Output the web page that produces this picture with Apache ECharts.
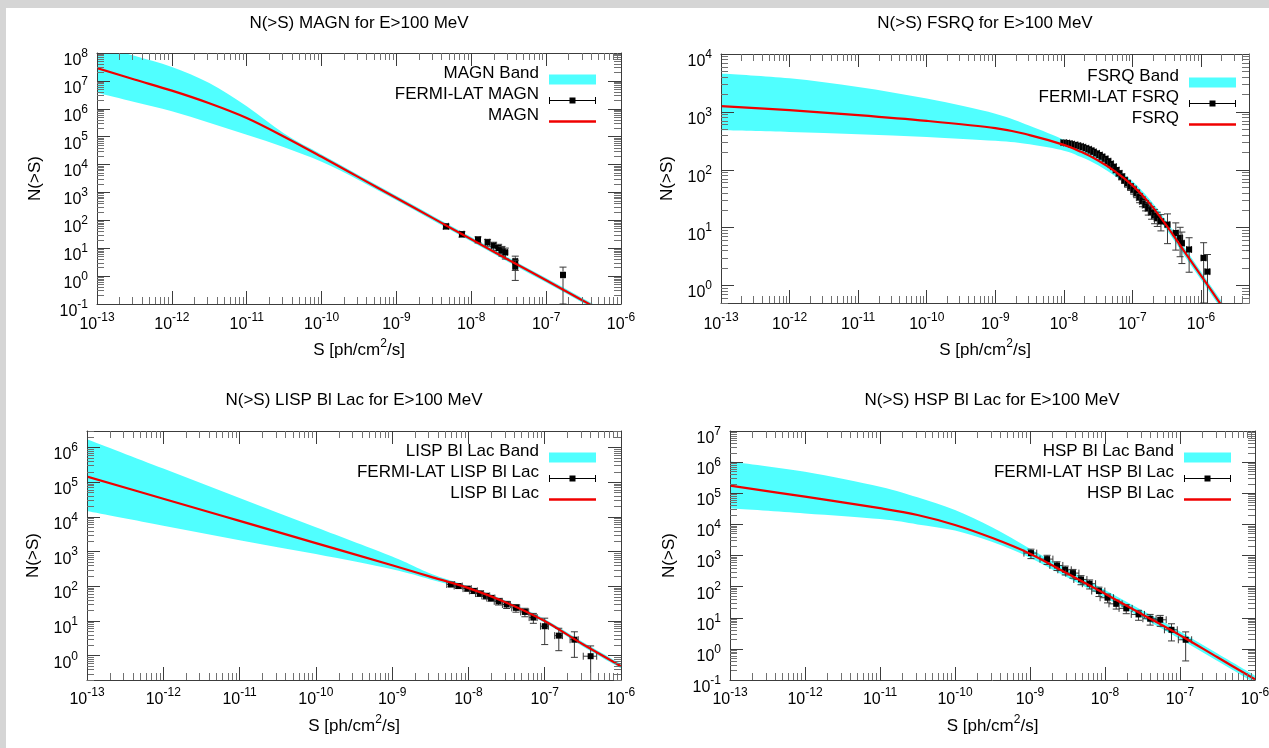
<!DOCTYPE html>
<html>
<head>
<meta charset="utf-8">
<title>N(&gt;S) source counts for E&gt;100 MeV</title>
<script src="https://cdn.jsdelivr.net/npm/echarts@6/dist/echarts.min.js"></script>
<style>
html,body{margin:0;padding:0;background:#ffffff;}
#chart{width:1269px;height:748px;}
</style>
</head>
<body>
<div id="chart"></div>
<script>
// ================= DATA =================
const titles = ['N(>S) MAGN for E>100 MeV', 'N(>S) FSRQ for E>100 MeV',
                'N(>S) LISP Bl Lac for E>100 MeV', 'N(>S) HSP Bl Lac for E>100 MeV'];
const legendNames1 = ['MAGN Band', 'FERMI-LAT MAGN', 'MAGN'];
const legendNames2 = ['FSRQ Band', 'FERMI-LAT FSRQ', 'FSRQ'];
const legendNames3 = ['LISP Bl Lac Band', 'FERMI-LAT LISP Bl Lac', 'LISP Bl Lac'];
const legendNames4 = ['HSP Bl Lac Band', 'FERMI-LAT HSP Bl Lac', 'HSP Bl Lac'];

// tick labels (decade exponents)
const xMajor  = [-13, -12, -11, -10, -9, -8, -7, -6];
const yMajor1 = [-1, 0, 1, 2, 3, 4, 5, 6, 7, 8];
const yMajor2 = [0, 1, 2, 3, 4];
const yMajor3 = [0, 1, 2, 3, 4, 5, 6];
const yMajor4 = [-1, 0, 1, 2, 3, 4, 5, 6, 7];

// ---- MAGN ----
const magnCurveS = [1e-13, 3.16e-13, 1e-12, 3.16e-12, 1e-11, 3.16e-11, 1e-10, 3.16e-10, 1e-9, 3.16e-9, 1e-8, 3.16e-8, 1e-7, 3.16e-7, 1e-6];
const magnLine   = [2.88e7, 1.12e7, 4.47e6, 1.58e6, 4.68e5, 1.0e5, 1.9e4, 3467, 631, 115, 20.9, 3.8, 0.708, 0.129, 0.0234];
const magnUpper  = [2.0e8, 7.9e7, 3.16e7, 8.32e6, 1.23e6, 1.29e5, 2.29e4, 4169, 759, 138, 25.1, 4.57, 0.851, 0.155, 0.0282];
const magnLower  = [3.72e6, 1.74e6, 8.13e5, 3.16e5, 1.17e5, 4.17e4, 1.26e4, 2754, 525, 95.5, 17.4, 3.16, 0.589, 0.107, 0.0195];
const magnS    = [4.6e-9, 7.5e-9, 1.23e-8, 1.65e-8, 1.99e-8, 2.32e-8, 2.57e-8, 2.85e-8, 3.87e-8, 3.87e-8, 1.68e-7];
const magnN    = [61, 32, 20.5, 16.3, 12.4, 10.2, 8.4, 7.1, 3.4, 2.2, 1.1];
const magnSErr = [0.35e-9, 0.5e-9, 0.8e-9, 1.0e-9, 1.2e-9, 1.4e-9, 1.6e-9, 1.8e-9, 2.4e-9, 2.4e-9, 1.0e-8];
const magnNErr = [12, 7, 5, 4.5, 4, 3.6, 3.2, 3, 1.8, 1.5, 1.0];

// ---- FSRQ ----
const fsrqCurveS = [1e-13, 1e-12, 1e-11, 1e-10, 1e-9, 3.16e-9, 1e-8, 1.78e-8, 3.16e-8, 5.62e-8, 1e-7, 1.78e-7, 3.16e-7, 5.62e-7, 1e-6, 1.78e-6, 3.16e-6];
const fsrqLine   = [1259, 1072, 881, 700, 525, 398, 269, 204, 145, 93.3, 53.7, 26.3, 10.7, 3.98, 1.48, 0.55, 0.204];
const fsrqUpper  = [4624, 3802, 2692, 1698, 933, 575, 331, 245, 174, 110, 63.1, 30.9, 12.6, 4.68, 1.74, 0.646, 0.24];
const fsrqLower  = [482, 451, 411, 369, 316, 275, 214, 166, 120, 77.6, 45.7, 22.4, 9.12, 3.39, 1.26, 0.468, 0.174];
const fsrqS = [1.0e-8, 1.1e-8, 1.2e-8, 1.3e-8, 1.45e-8, 1.6e-8, 1.75e-8, 1.9e-8, 2.1e-8, 2.3e-8,
               2.5e-8, 2.7e-8, 3.0e-8, 3.3e-8, 3.6e-8, 4.0e-8, 4.4e-8, 4.8e-8, 5.3e-8, 5.8e-8,
               6.4e-8, 7.0e-8, 7.7e-8, 8.5e-8, 9.4e-8, 1.04e-7, 1.15e-7, 1.27e-7, 1.4e-7, 1.55e-7,
               1.7e-7, 1.9e-7, 2.1e-7, 2.3e-7, 2.6e-7, 3.24e-7, 4.28e-7, 4.95e-7, 5.25e-7, 6.7e-7,
               1.09e-6, 1.24e-6];
const fsrqN = [295, 290, 284, 277, 270, 262, 254, 246, 236, 226,
               215, 204, 192, 180, 168, 155, 141, 127, 113, 99,
               87, 76, 66, 58, 51, 45, 39, 33, 28.5, 24.5,
               21.5, 18.5, 16.2, 14.5, 12.8, 11.3, 8.1, 6.65, 5.4, 4.2,
               3.0, 1.74];
const fsrqSErr = [1.0e-9, 1.1e-9, 1.2e-9, 1.3e-9, 1.5e-9, 1.6e-9, 1.8e-9, 1.9e-9, 2.1e-9, 2.3e-9,
                  2.5e-9, 2.7e-9, 3.0e-9, 3.3e-9, 3.6e-9, 4.0e-9, 4.4e-9, 4.8e-9, 5.3e-9, 5.8e-9,
                  6.4e-9, 7.0e-9, 7.7e-9, 8.5e-9, 9.4e-9, 1.0e-8, 1.2e-8, 1.3e-8, 1.4e-8, 1.6e-8,
                  1.7e-8, 1.9e-8, 2.1e-8, 2.3e-8, 2.6e-8, 2.6e-8, 3.4e-8, 4.0e-8, 4.2e-8, 5.4e-8,
                  8.7e-8, 1.0e-7];
const fsrqNErr = [17, 17, 17, 17, 16, 16, 16, 16, 15, 15,
                  15, 14, 14, 13, 13, 12, 12, 11, 11, 10,
                  9, 9, 8, 8, 7, 7, 6, 6, 5.5, 5,
                  5, 4.5, 4.5, 4, 4, 6, 4, 3.5, 3, 2.5,
                  2.5, 1.7];

// ---- LISP Bl Lac ----
const lispCurveS = [1e-13, 1e-12, 1e-11, 1e-10, 1e-9, 3.16e-9, 1e-8, 3.16e-8, 1e-7, 3.16e-7, 1e-6];
const lispLine   = [1.46e5, 3.35e4, 7691, 1766, 406, 191, 89.1, 33.9, 10.0, 2.14, 0.501];
const lispUpper  = [1.74e6, 2.48e5, 3.53e4, 5012, 719, 234, 100, 38.0, 11.5, 2.51, 0.589];
const lispLower  = [1.49e4, 5623, 2138, 851, 309, 158, 79.4, 30.2, 8.91, 1.86, 0.437];
const lispS    = [5.9e-9, 7.4e-9, 9.7e-9, 1.17e-8, 1.41e-8, 1.7e-8, 1.98e-8, 2.48e-8, 3.17e-8, 4.2e-8, 5.5e-8, 7.1e-8, 1.0e-7, 1.53e-7, 2.45e-7, 4.0e-7];
const lispN    = [113, 102, 86, 74, 62, 53, 46, 37, 30, 24, 18.3, 12.6, 7.1, 3.8, 2.9, 0.97];
const lispSErr = [0.7e-9, 0.9e-9, 1.2e-9, 1.4e-9, 1.7e-9, 2.0e-9, 2.4e-9, 3.0e-9, 3.8e-9, 5.0e-9, 6.6e-9, 8.5e-9, 1.2e-8, 1.8e-8, 3.0e-8, 0.8e-7];
const lispNErr = [15, 14, 13, 12, 11, 10, 9, 8, 7, 6, 5, 4, 5, 2.4, 2.0, 0.95];

// ---- HSP Bl Lac ----
const hspCurveS = [1e-13, 1e-12, 1e-11, 3.16e-11, 1e-10, 3.16e-10, 1e-9, 3.16e-9, 1e-8, 3.16e-8, 1e-7, 3.16e-7, 1e-6];
const hspLine   = [1.75e5, 7.76e4, 3.31e4, 2.0e4, 9550, 3631, 1148, 263, 58.9, 12.8, 2.75, 0.537, 0.105];
const hspUpper  = [1.05e6, 4.9e5, 1.62e5, 7.41e4, 2.88e4, 7943, 1660, 355, 77.6, 17.0, 3.63, 0.708, 0.138];
const hspLower  = [3.27e4, 2.24e4, 1.48e4, 1.0e4, 6310, 2692, 851, 195, 44.7, 9.77, 2.09, 0.407, 0.0794];
const hspS    = [1.03e-9, 1.69e-9, 2.29e-9, 2.95e-9, 3.74e-9, 4.79e-9, 6.24e-9, 8.3e-9, 1.08e-8, 1.41e-8, 1.92e-8, 2.8e-8, 4.0e-8, 5.45e-8, 7.7e-8, 1.19e-7];
const hspN    = [1194, 766, 479, 347, 272, 170, 124, 72, 44, 28, 20, 12.8, 9.3, 8.6, 4.1, 1.96];
const hspSErr = [0.2e-9, 0.33e-9, 0.45e-9, 0.6e-9, 0.75e-9, 0.95e-9, 1.25e-9, 1.65e-9, 2.2e-9, 2.8e-9, 3.8e-9, 5.6e-9, 8e-9, 1.1e-8, 1.5e-8, 2.4e-8];
const hspNErr = [400, 250, 150, 110, 85, 55, 40, 24, 14, 9, 6.5, 4.5, 3.5, 3.3, 2.3, 1.55];

// ================= STYLE / LAYOUT =================
const L10 = Math.log10;
const FONT = '"Liberation Sans", Arial, Helvetica, sans-serif';
const FS = 17;      // titles, legend, axis names
const FB = 16;      // tick label base "10"
const FSUP = 12;    // exponent
const AX = '#3c3c3c', AXMIN = '#707070';
const BAND = '#50ffff', RED = '#f00000', PT = '#000000', ERRC = '#383838';

const RICH = {
  b: {fontFamily: FONT, fontSize: FB, lineHeight: FB, color: '#000', verticalAlign: 'bottom'},
  s: {fontFamily: FONT, fontSize: FSUP, lineHeight: FSUP, color: '#000', padding: [0, 0, 9, 0], verticalAlign: 'bottom'}
};
const X_NAME = '{a|S [ph/cm}{s|2}{a|/s]}';
const X_NAME_STYLE = {fontFamily: FONT, fontSize: FS, color: '#000',
  rich: {a: {fontFamily: FONT, fontSize: FS, lineHeight: FS, color: '#000', verticalAlign: 'bottom'},
         s: {fontFamily: FONT, fontSize: FSUP, lineHeight: FSUP, color: '#000', padding: [0, 0, 9, 0], verticalAlign: 'bottom'}}};
const Y_NAME_STYLE = {fontFamily: FONT, fontSize: FS, lineHeight: FS, color: '#000'};
const LEG_TEXT = {fontFamily: FONT, fontSize: FS, color: '#000',
  rich: {t: {fontFamily: FONT, fontSize: FS, lineHeight: 16, color: '#000', padding: [0, 5, 12, 0], verticalAlign: 'middle'}}};
const ERR_ICON = 'path://M0,4.5L47,4.5L47,5.5L0,5.5Z M0,1.5L1,1.5L1,8.5L0,8.5Z M46,1.5L47,1.5L47,8.5L46,8.5Z M20.5,2L26.5,2L26.5,8L20.5,8Z';
const LINE_ICON = 'path://M0,0L47,0L47,2.5L0,2.5Z';

const panels = [
  {grid: {left: 97, top: 53, width: 524, height: 251}, xr: [-13, -6], yr: [-1, 8], yMaj: yMajor1,
   title: titles[0], tx: 359, ty: 15, names: legendNames1,
   curveS: magnCurveS, line: magnLine, lo: magnLower, hi: magnUpper,
   S: magnS, N: magnN, dS: magnSErr, dN: magnNErr,
   legRight: 673, legTop: 65, xNameGap: 38, yNameGap: 53, xLabMargin: 13},
  {grid: {left: 721, top: 54, width: 528, height: 249}, xr: [-13, L10(5e-6)], yr: [L10(0.5), 4], yMaj: yMajor2,
   title: titles[1], tx: 985, ty: 15, names: legendNames2,
   curveS: fsrqCurveS, line: fsrqLine, lo: fsrqLower, hi: fsrqUpper,
   S: fsrqS, N: fsrqN, dS: fsrqSErr, dN: fsrqNErr,
   legRight: 33, legTop: 68, xNameGap: 39, yNameGap: 45, xLabMargin: 14},
  {grid: {left: 87, top: 431, width: 534, height: 249}, xr: [-13, -6], yr: [L10(0.2), L10(3e6)], yMaj: yMajor3,
   title: titles[2], tx: 354, ty: 392, names: legendNames3,
   curveS: lispCurveS, line: lispLine, lo: lispLower, hi: lispUpper,
   S: lispS, N: lispN, dS: lispSErr, dN: lispNErr,
   legRight: 673, legTop: 443, xNameGap: 38, yNameGap: 45, xLabMargin: 12},
  {grid: {left: 730, top: 431, width: 525, height: 249}, xr: [-13, -6], yr: [-1, 7], yMaj: yMajor4,
   title: titles[3], tx: 992, ty: 392, names: legendNames4,
   curveS: hspCurveS, line: hspLine, lo: hspLower, hi: hspUpper,
   S: hspS, N: hspN, dS: hspSErr, dN: hspNErr,
   legRight: 38, legTop: 443, xNameGap: 38, yNameGap: 52, xLabMargin: 12}
];

function minorTicks(r) {
  const out = [];
  for (let e = Math.floor(r[0]) - 1; e <= Math.ceil(r[1]); e++) {
    for (let k = 2; k <= 9; k++) {
      const v = e + L10(k);
      if (v >= r[0] - 1e-9 && v <= r[1] + 1e-9) out.push(v);
    }
  }
  return out;
}
function labelFmt(v) { return '{b|10}{s|' + Math.round(v) + '}'; }

function axisSet(dim, g, p) {
  const r = dim === 'x' ? p.xr : p.yr;
  const maj = dim === 'x' ? xMajor : p.yMaj;
  const mn = minorTicks(r);
  const sides = dim === 'x' ? ['bottom', 'top'] : ['left', 'right'];
  const common = {type: 'value', gridIndex: g, min: r[0], max: r[1], splitLine: {show: false}, z: 6, silent: true};
  const out = [];
  sides.forEach(function (side, si) {
    const main = Object.assign({}, common, {
      position: side,
      axisLine: {show: true, onZero: false, lineStyle: {color: AX, width: 1}},
      axisTick: {show: true, inside: true, length: 13, customValues: maj, lineStyle: {color: AX, width: 1}},
      axisLabel: {show: false}
    });
    if (si === 0) {
      if (dim === 'x') {
        main.axisLabel = {show: true, customValues: maj, formatter: labelFmt, rich: RICH, margin: p.xLabMargin};
        main.name = X_NAME; main.nameLocation = 'middle'; main.nameGap = p.xNameGap; main.nameTextStyle = X_NAME_STYLE;
      } else {
        main.axisLabel = {show: true, customValues: maj, formatter: labelFmt, rich: RICH, margin: 9, padding: [15, 0, 0, 0]};
        main.name = 'N(>S)'; main.nameLocation = 'middle'; main.nameGap = p.yNameGap; main.nameTextStyle = Y_NAME_STYLE;
      }
    }
    const minor = Object.assign({}, common, {
      position: side,
      axisLine: {show: false, onZero: false},
      axisTick: {show: true, inside: true, length: 7, customValues: mn, lineStyle: {color: AXMIN, width: 1}},
      axisLabel: {show: false}
    });
    out.push(main, minor);
  });
  return out;
}

// Catmull-Rom spline through pixel points (rendering only)
function spline(pts) {
  let d = '';
  for (let i = 0; i < pts.length - 1; i++) {
    const p0 = pts[Math.max(i - 1, 0)], p1 = pts[i], p2 = pts[i + 1], p3 = pts[Math.min(i + 2, pts.length - 1)];
    const t = 1 / 6;
    d += 'C' + (p1[0] + (p2[0] - p0[0]) * t) + ',' + (p1[1] + (p2[1] - p0[1]) * t) + ' ' +
         (p2[0] - (p3[0] - p1[0]) * t) + ',' + (p2[1] - (p3[1] - p1[1]) * t) + ' ' + p2[0] + ',' + p2[1];
  }
  return d;
}
function clipRect(cs) { return {type: 'rect', shape: {x: cs.x, y: cs.y, width: cs.width, height: cs.height}}; }

function bandSeries(g, p) {
  const rows = p.curveS.map(function (s, i) { return [L10(s), L10(p.lo[i]), L10(p.hi[i])]; });
  return {
    type: 'custom', name: p.names[0], xAxisIndex: 4 * g, yAxisIndex: 4 * g, z: 1, silent: true, clip: true,
    itemStyle: {color: BAND}, dimensions: ['x', 'lo', 'hi'], encode: {x: 0, y: [1, 2]}, data: rows,
    renderItem: function (params, api) {
      if (params.dataIndex !== 0) return null;
      const up = rows.map(function (r) { return api.coord([r[0], r[2]]); });
      const lo = rows.map(function (r) { return api.coord([r[0], r[1]]); }).reverse();
      const d = 'M' + up[0][0] + ',' + up[0][1] + spline(up) + 'L' + lo[0][0] + ',' + lo[0][1] + spline(lo) + 'Z';
      return {type: 'group', clipPath: clipRect(params.coordSys), children: [
        {type: 'path', shape: {pathData: d}, style: {fill: BAND, stroke: 'none'}}
      ]};
    }
  };
}

function errSeries(g, p) {
  const data = p.S.map(function (s, i) {
    const nlo = p.N[i] - p.dN[i];
    return [L10(s), L10(p.N[i]), L10(s - p.dS[i]), L10(s + p.dS[i]), nlo > 0 ? L10(nlo) : -5, L10(p.N[i] + p.dN[i])];
  });
  return {
    type: 'custom', name: p.names[1], xAxisIndex: 4 * g, yAxisIndex: 4 * g, z: 2, silent: true, clip: true,
    itemStyle: {color: PT}, dimensions: ['x', 'y', 'xl', 'xh', 'yl', 'yh'], encode: {x: 0, y: 1}, data: data,
    renderItem: function (params, api) {
      const x = api.value(0), y = api.value(1);
      const c = api.coord([x, y]);
      const xl = api.coord([api.value(2), y])[0], xh = api.coord([api.value(3), y])[0];
      const yl = api.coord([x, api.value(4)])[1], yh = api.coord([x, api.value(5)])[1];
      const cap = 3.5, sq = 3;
      const ls = {stroke: ERRC, lineWidth: 1, fill: 'none'};
      return {type: 'group', clipPath: clipRect(params.coordSys), children: [
        {type: 'line', shape: {x1: xl, y1: c[1], x2: xh, y2: c[1]}, style: ls},
        {type: 'line', shape: {x1: xl, y1: c[1] - cap, x2: xl, y2: c[1] + cap}, style: ls},
        {type: 'line', shape: {x1: xh, y1: c[1] - cap, x2: xh, y2: c[1] + cap}, style: ls},
        {type: 'line', shape: {x1: c[0], y1: yl, x2: c[0], y2: yh}, style: ls},
        {type: 'line', shape: {x1: c[0] - cap, y1: yl, x2: c[0] + cap, y2: yl}, style: ls},
        {type: 'line', shape: {x1: c[0] - cap, y1: yh, x2: c[0] + cap, y2: yh}, style: ls},
        {type: 'rect', shape: {x: c[0] - sq, y: c[1] - sq, width: 2 * sq, height: 2 * sq}, style: {fill: PT, stroke: 'none'}}
      ]};
    }
  };
}

function lineSeries(g, p) {
  const rows = p.curveS.map(function (s, i) { return [L10(s), L10(p.line[i])]; });
  return {
    type: 'custom', name: p.names[2], xAxisIndex: 4 * g, yAxisIndex: 4 * g, z: 3, silent: true, clip: true,
    itemStyle: {color: RED}, dimensions: ['x', 'y'], encode: {x: 0, y: 1}, data: rows,
    renderItem: function (params, api) {
      if (params.dataIndex !== 0) return null;
      const pts = rows.map(function (r) { return api.coord(r); });
      const d = 'M' + pts[0][0] + ',' + pts[0][1] + spline(pts);
      return {type: 'group', clipPath: clipRect(params.coordSys), children: [
        {type: 'path', shape: {pathData: d}, style: {fill: 'none', stroke: RED, lineWidth: 2.2, lineJoin: 'round'}}
      ]};
    }
  };
}

const option = {
  animation: false,
  backgroundColor: '#ffffff',
  textStyle: {fontFamily: FONT},
  graphic: [
    {type: 'rect', left: 0, top: 0, z: -10, shape: {width: 1269, height: 8}, style: {fill: '#d5d5d5'}},
    {type: 'rect', left: 0, top: 0, z: -10, shape: {width: 6, height: 748}, style: {fill: '#d5d5d5'}}
  ],
  title: [], legend: [], grid: [], xAxis: [], yAxis: [], series: []
};

panels.forEach(function (p, g) {
  option.grid.push(Object.assign({outerBoundsMode: 'none', containLabel: false}, p.grid));
  option.title.push({text: p.title, left: p.tx, top: p.ty, textAlign: 'center', padding: 0,
    textStyle: {fontFamily: FONT, fontSize: FS, lineHeight: FS, fontWeight: 'normal', color: '#000'}});
  option.xAxis.push.apply(option.xAxis, axisSet('x', g, p));
  option.yAxis.push.apply(option.yAxis, axisSet('y', g, p));
  option.series.push(bandSeries(g, p), errSeries(g, p), lineSeries(g, p));
  option.legend.push({
    orient: 'vertical', align: 'right', right: p.legRight, top: p.legTop, padding: 0,
    itemWidth: 47, itemHeight: 10, itemGap: -8, selectedMode: false, symbolKeepAspect: true,
    formatter: '{t|{name}}', textStyle: LEG_TEXT,
    data: [
      {name: p.names[0], icon: 'rect', itemStyle: {color: BAND}},
      {name: p.names[1], icon: ERR_ICON, itemStyle: {color: PT}},
      {name: p.names[2], icon: LINE_ICON, itemStyle: {color: RED}}
    ]
  });
});

const chart = echarts.init(document.getElementById('chart'), null, {renderer: 'canvas', width: 1269, height: 748});
chart.setOption(option);
</script>
</body>
</html>
